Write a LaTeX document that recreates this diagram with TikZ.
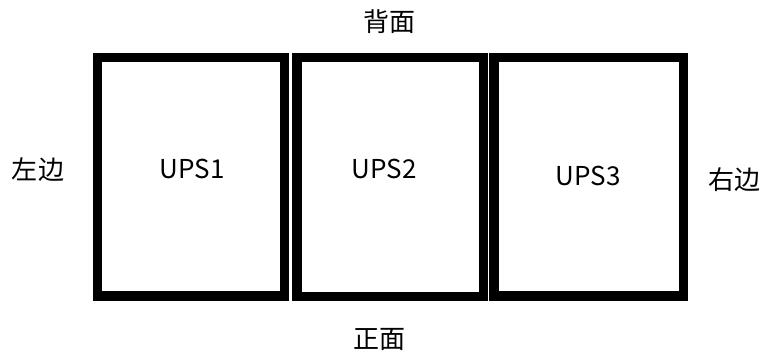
\documentclass[tikz,border=0pt]{standalone}
\usepackage{fontspec}
\setmainfont{Noto Sans CJK SC}
\begin{document}
\begin{tikzpicture}[x=1pt,y=-1pt,
  upsbox/.style={draw=black,line width=9.5pt,fill=white},
  lbl/.style={inner sep=0pt,font=\fontsize{26}{30}\selectfont}]
\useasboundingbox (0,0) rectangle (767,356);
\draw[upsbox] (97.5,57.5) rectangle (284.5,296) coordinate (b1);
\draw[upsbox] (297,57.5) rectangle (483.5,296.5) coordinate (b2);
\draw[upsbox] (494,57.5) rectangle (683.5,296) coordinate (b3);
\node[lbl] (u1) at (192,169) {UPS1};
\node[lbl] (u2) at (384,169) {UPS2};
\node[lbl] (u3) at (588,176) {UPS3};
\node[lbl] (back) at (389,22) {背面};
\node[lbl] (front) at (379,339) {正面};
\node[lbl] (left) at (38,170) {左边};
\node[lbl] (right) at (734,180) {右边};
\end{tikzpicture}
\end{document}
